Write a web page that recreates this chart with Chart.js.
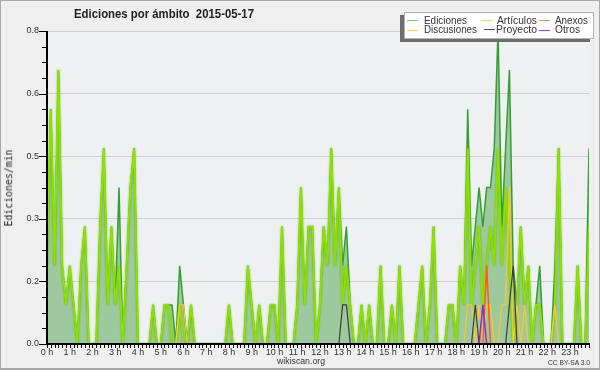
<!DOCTYPE html>
<html lang="es">
<head>
<meta charset="utf-8">
<script src="https://cdn.jsdelivr.net/npm/chart.js@4.4.1/dist/chart.umd.min.js"></script>
<style>
  html,body{margin:0;padding:0;background:#efefef;}
  #wrap{position:relative;width:600px;height:370px;overflow:hidden;font-family:"Liberation Sans",Arial,sans-serif;color:#222;}
  #c{position:absolute;left:0;top:0;}
  .txt{position:absolute;white-space:pre;line-height:1;transform-origin:0 50%;}
  #marco{position:absolute;left:0;top:0;width:598px;height:367px;border:1px solid #a8a8a8;border-bottom-width:2px;pointer-events:none;}
  #leyenda{position:absolute;left:404px;top:12px;width:188px;height:25px;background:#fff;border:1px solid #b4b4b4;box-shadow:-4px 3px 0 #6e6e6e;}
  .lin{position:absolute;height:1px;}
</style>
</head>
<body>
<div id="wrap">
  <canvas id="c" width="600" height="370"></canvas>
  <div id="titulo" class="txt" style="font-weight:bold;font-size:13px;">Ediciones por ámbito  2015-05-17</div>
  <div id="ytit" class="txt" style="font-family:'DejaVu Sans Mono',monospace;font-size:10px;transform-origin:50% 50%;">Ediciones/min</div>
  <div id="leyenda"></div>
  <div id="pie1" class="txt" style="font-size:9px;color:#333;">wikiscan.org</div>
  <div id="pie2" class="txt" style="font-size:7px;color:#333;">CC BY-SA 3.0</div>
  <div id="marco"></div>
</div>
<script>
const $ = s => document.querySelector(s);

// ---------- datos (ediciones/min, bloques de 10 min, 0h00 .. 23h50) ----------
const horas = [0,1,2,3,4,5,6,7,8,9,10,11,12,13,14,15,16,17,18,19,20,21,22,23];
const marcasY = [0, 0.16, 0.32, 0.48, 0.64, 0.8];

const ediciones = [
  0.2,0.6,0.2,0.7,0.2,0.1,0.2,0.1,0,0.2,0.3,0,
  0,0,0.3,0.5,0.1,0.3,0.1,0.4,0,0.2,0.4,0.5,
  0,0,0,0,0.1,0,0,0.1,0.1,0.1,0,0.2,
  0.1,0,0.1,0,0,0,0,0,0,0,0,0,
  0.1,0,0,0,0,0.2,0.1,0,0.1,0,0,0.1,
  0.1,0,0.3,0,0,0,0.1,0.4,0.1,0.3,0.3,0,
  0.1,0.3,0.2,0.5,0.2,0.4,0.2,0.3,0.1,0,0,0.1,
  0,0.1,0,0,0.2,0,0,0.1,0,0.2,0,0,
  0,0,0.1,0.2,0,0.1,0.3,0,0,0,0.1,0.1,
  0,0.2,0.1,0.6,0.2,0.3,0.4,0.3,0.4,0.4,0.5,0.8,
  0.3,0.5,0.7,0.2,0.1,0.3,0.1,0.2,0,0.1,0.2,0,
  0,0,0.2,0.5,0,0,0,0,0.2,0,0,0.5
];
const articulos = [
  0.2,0.6,0.2,0.7,0.2,0.1,0.2,0.1,0,0.2,0.3,0,
  0,0,0.3,0.5,0.1,0.3,0.1,0.2,0,0.2,0.4,0.5,
  0,0,0,0,0.1,0,0,0.1,0.1,0,0,0.1,
  0,0,0.1,0,0,0,0,0,0,0,0,0,
  0.1,0,0,0,0,0.2,0.1,0,0.1,0,0,0.1,
  0.1,0,0.3,0,0,0,0.1,0.4,0.1,0.3,0.3,0,
  0.1,0.3,0.2,0.5,0.2,0.4,0.1,0.2,0.1,0,0,0.1,
  0,0.1,0,0,0.2,0,0,0.1,0,0.2,0,0,
  0,0,0.1,0.2,0,0.1,0.3,0,0,0,0.1,0.1,
  0,0.2,0.1,0.5,0.1,0.2,0.3,0.1,0.2,0.3,0.2,0.5,
  0.2,0.4,0.2,0,0.1,0.3,0.1,0.2,0,0.1,0.1,0,
  0,0,0.1,0.5,0,0,0,0,0.2,0,0,0.3
];
const discusiones = [
  0,0,0,0,0,0,0,0,0,0,0,0,
  0,0,0,0,0,0,0,0,0,0,0,0,
  0,0,0,0,0,0,0,0,0,0,0,0.1,
  0.1,0,0,0,0,0,0,0,0,0,0,0,
  0,0,0,0,0,0,0,0,0,0,0,0,
  0,0,0,0,0,0,0,0,0,0,0,0,
  0,0,0,0,0,0,0,0,0,0,0,0,
  0,0,0,0,0,0,0,0,0,0,0,0,
  0,0,0,0,0,0,0,0,0,0,0,0,
  0,0,0,0.1,0.1,0,0.1,0,0.1,0.1,0,0,
  0.1,0.1,0.4,0,0.1,0,0.1,0,0,0,0,0,
  0,0,0.1,0,0,0,0,0,0,0,0,0
];
const proyecto = [
  0,0,0,0,0,0,0,0,0,0,0,0,
  0,0,0,0,0,0,0,0,0,0,0,0,
  0,0,0,0,0,0,0,0,0,0,0,0,
  0,0,0,0,0,0,0,0,0,0,0,0,
  0,0,0,0,0,0,0,0,0,0,0,0,
  0,0,0,0,0,0,0,0,0,0,0,0,
  0,0,0,0,0,0,0.1,0.1,0,0,0,0,
  0,0,0,0,0,0,0,0,0,0,0,0,
  0,0,0,0,0,0,0,0,0,0,0,0,
  0,0,0,0,0,0.1,0,0,0,0,0,0,
  0,0,0.1,0.2,0,0,0,0,0,0,0,0,
  0,0,0,0,0,0,0,0,0,0,0,0
];
const anexos = [
  0,0,0,0,0,0,0,0,0,0,0,0,
  0,0,0,0,0,0,0,0,0,0,0,0,
  0,0,0,0,0,0,0,0,0,0,0,0,
  0,0,0,0,0,0,0,0,0,0,0,0,
  0,0,0,0,0,0,0,0,0,0,0,0,
  0,0,0,0,0,0,0,0,0,0,0,0,
  0,0,0,0,0,0,0,0,0,0,0,0,
  0,0,0,0,0,0,0,0,0,0,0,0,
  0,0,0,0,0,0,0,0,0,0,0,0,
  0,0,0,0,0,0,0,0,0.2,0,0,0,
  0,0,0,0,0,0,0,0,0,0,0,0,
  0,0,0,0,0,0,0,0,0,0,0,0
];
const otros = [
  0,0,0,0,0,0,0,0,0,0,0,0,
  0,0,0,0,0,0,0,0,0,0,0,0,
  0,0,0,0,0,0,0,0,0,0,0,0,
  0,0,0,0,0,0,0,0,0,0,0,0,
  0,0,0,0,0,0,0,0,0,0,0,0,
  0,0,0,0,0,0,0,0,0,0,0,0,
  0,0,0,0,0,0,0,0,0,0,0,0,
  0,0,0,0,0,0,0,0,0,0,0,0,
  0,0,0,0,0,0,0,0,0,0,0,0,
  0,0,0,0,0,0,0,0.1,0,0,0,0,
  0,0,0,0,0,0,0,0,0,0,0,0,
  0,0,0,0,0,0,0,0,0,0,0,0
];

// ---------- series ----------
const pts = arr => arr.map((v,i)=>({x:i*10, y:v}));
const series = [
  {label:'Ediciones',   data:ediciones,   color:'#33a033', ley:'#6fcf6f', w:1.5, order:6},
  {label:'Artículos',   data:articulos,   color:'#8ee000', ley:'#c8f53a', w:2,   order:5},
  {label:'Discusiones', data:discusiones, color:'#ffc820', ley:'#ffd040', w:1.2, order:4},
  {label:'Proyecto',    data:proyecto,    color:'#3c3c3c', ley:'#555555', w:1.2, order:3},
  {label:'Anexos',      data:anexos,      color:'#ff5a1a', ley:'#ff8040', w:1.5, order:2},
  {label:'Otros',       data:otros,       color:'#8a2be2', ley:'#9a40ff', w:1.5, order:1}
];

const datasets = series.map((s,i)=>({
  label:s.label, data:pts(s.data), borderColor:s.color, borderWidth:s.w,
  pointRadius:0, tension:0, order:s.order,
  fill: i===0 ? 'origin' : false,
  backgroundColor: i===0 ? '#9ec99e' : s.color
}));

// ---------- plugins ----------
const fondo = {
  id:'fondo',
  beforeDraw(ch){
    const a=ch.chartArea, ctx=ch.ctx;
    ctx.save(); ctx.fillStyle='#eef0f2'; ctx.fillRect(a.left,a.top,a.right-a.left,a.bottom-a.top); ctx.restore();
  }
};
const brillo = {
  id:'brillo',
  beforeDatasetDraw(ch,args){
    ch.ctx.save();
    if(args.index===1){ ch.ctx.shadowColor='rgba(80,170,0,0.8)'; ch.ctx.shadowBlur=2; }
  },
  afterDatasetDraw(ch){ ch.ctx.restore(); }
};
const ejes = {
  id:'ejes',
  afterDatasetsDraw(ch){
    const a=ch.chartArea, ctx=ch.ctx, x=ch.scales.x, y=ch.scales.y;
    ctx.save(); ctx.fillStyle='#000';
    ctx.fillRect(a.left-1, a.top, 2, a.bottom-a.top+1);
    ctx.fillRect(a.left-1, a.bottom-1, a.right-a.left+2, 2);
    for(let m=0;m<=1430;m+=10){ const px=Math.round(x.getPixelForValue(m)); ctx.fillRect(px, a.bottom+1, 1, 3); }
    for(let k=0;k<=20;k++){
      const py=Math.round(y.getPixelForValue(k*0.04)); const len = k%4===0 ? 7 : 4;
      ctx.fillRect(a.left-1-len, py, len, 1);
    }
    ctx.restore();
  }
};

const fuente = {family:'"Liberation Sans", Arial, sans-serif', size:9};
new Chart($('#c'), {
  type:'line',
  data:{datasets},
  options:{
    responsive:false, animation:false, devicePixelRatio:1,
    layout:{padding:{top:31,right:11,left:0,bottom:0}},
    plugins:{legend:{display:false}, tooltip:{enabled:false}},
    scales:{
      x:{
        type:'linear', min:0, max:1430,
        grid:{display:false, drawTicks:false}, border:{display:false},
        afterBuildTicks: s => { s.ticks = horas.map(h=>({value:h*60})); },
        afterFit: s => { s.height = 26; },
        ticks:{autoSkip:false, maxRotation:0, minRotation:0, padding:3, color:'#333', font:fuente,
               callback: v => (v/60)+' h'}
      },
      y:{
        min:0, max:0.8,
        grid:{color:'#cfcfcf', lineWidth:1, drawTicks:false}, border:{display:false},
        afterBuildTicks: s => { s.ticks = marcasY.map(v=>({value:v})); },
        afterFit: s => { s.width = 47; },
        ticks:{padding:8, color:'#333', font:fuente, callback: v => v.toFixed(1)}
      }
    }
  },
  plugins:[fondo, brillo, ejes]
});

// ---------- textos ----------
function ajustar(el, ancho){
  const w = el.getBoundingClientRect().width;
  el.style.transform = `scaleX(${ancho/w})`;
  return w;
}
function colocar(el, left, cy, ancho){
  el.style.left = left+'px';
  el.style.top = (cy - el.offsetHeight/2)+'px';
  ajustar(el, ancho);
}
colocar($('#titulo'), 74, 13, 180);
colocar($('#pie1'), 277, 361, 48);
colocar($('#pie2'), 548, 362, 42);

const yt = $('#ytit');
const yw = yt.getBoundingClientRect().width, yh = yt.offsetHeight;
yt.style.left = (9.5 - yw/2)+'px';
yt.style.top = (188 - yh/2)+'px';
yt.style.transform = `rotate(-90deg) scaleX(${77/yw})`;

// leyenda: 3 columnas x 2 filas
const posLey = [
  {x:407, y:20, tx:424, w:43},  // Ediciones
  {x:481, y:20, tx:497, w:40},  // Artículos
  {x:539, y:29.5, tx:555, w:25},// Otros
  {x:407, y:29.5, tx:424, w:53},// Discusiones
  {x:484, y:29, tx:496, w:41},  // Proyecto
  {x:539, y:20, tx:555, w:33}   // Anexos
];
const ley = $('#leyenda');
series.forEach((s,i)=>{
  const p = posLey[[0,1,3,4,5,2][i]];
  const ln = document.createElement('div');
  ln.className='lin'; ln.style.background=s.ley;
  ln.style.left=(p.x-405)+'px'; ln.style.top=(Math.round(p.y)-13)+'px'; ln.style.width='11px';
  ley.appendChild(ln);
  const t = document.createElement('div');
  t.className='txt'; t.textContent=s.label; t.style.fontSize='10.5px'; t.style.color='#333';
  ley.appendChild(t);
  t.style.left=(p.tx-405)+'px'; t.style.top=(p.y-13-t.offsetHeight/2)+'px';
  ajustar(t, p.w);
});
</script>
</body>
</html>
